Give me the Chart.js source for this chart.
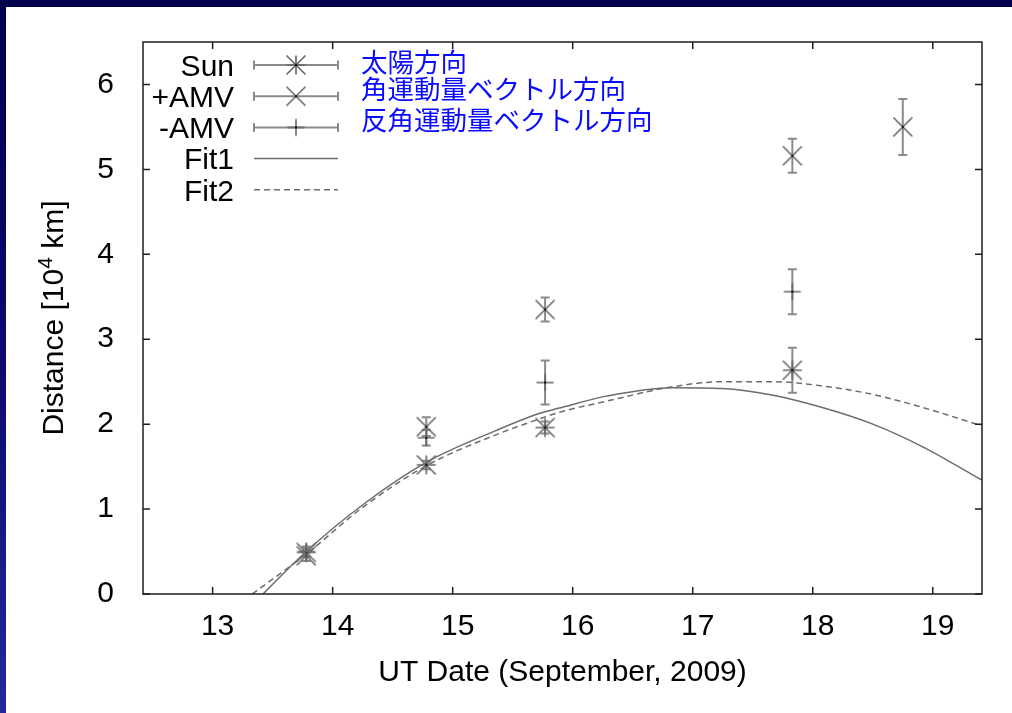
<!DOCTYPE html>
<html>
<head>
<meta charset="utf-8">
<script src="https://cdn.jsdelivr.net/npm/chart.js@4.4.1/dist/chart.umd.min.js"></script>
<style>
  html, body { margin: 0; padding: 0; width: 1012px; height: 713px; overflow: hidden; }
  body { position: relative; background: linear-gradient(180deg, #00004c 0%, #0c0c72 55%, #2626a0 100%); }
  #panel { position: absolute; left: 6px; top: 7px; right: 0; bottom: 0; background: #ffffff; }
  #wrap { position: absolute; left: 0; top: 0; width: 1012px; height: 713px; }
</style>
</head>
<body>
<div id="panel"></div>
<div id="wrap"><canvas id="chart" width="1012" height="713"></canvas></div>
<script>
// Axis ticks
const xTicks = [13, 14, 15, 16, 17, 18, 19];
const yTicks = [0, 1, 2, 3, 4, 5, 6];

// Observations (UT day of September 2009, distance in 10^4 km)
const sunDates = [13.78, 14.78, 15.77, 17.83];
const sunDist  = [0.49, 1.52, 1.96, 2.635];
const sunErr   = [0.05, 0.05, 0.07, 0.265];

const plusAmvDates = [13.78, 14.78, 15.77, 17.83, 18.75];
const plusAmvDist  = [0.45, 1.97, 3.35, 5.16, 5.50];
const plusAmvErr   = [0.06, 0.11, 0.14, 0.20, 0.33];

const minusAmvDates = [13.78, 14.78, 15.77, 17.83];
const minusAmvDist  = [0.50, 1.84, 2.49, 3.56];
const minusAmvErr   = [0.06, 0.09, 0.26, 0.265];

// Fitted trajectories
const fit1Dates = [13.42, 13.78, 14.26, 14.78, 15.37, 15.72, 15.89, 16.28, 16.83, 17.25, 17.67, 18.08, 18.50, 18.92, 19.41];
const fit1Dist  = [0.00, 0.50, 1.06, 1.55, 1.93, 2.125, 2.19, 2.33, 2.43, 2.42, 2.34, 2.195, 2.00, 1.73, 1.34];
const fit2Dates = [13.33, 13.78, 14.26, 14.78, 15.37, 15.72, 15.89, 16.28, 16.83, 17.25, 17.67, 18.08, 18.50, 18.92, 19.41];
const fit2Dist  = [0.00, 0.47, 1.03, 1.51, 1.88, 2.06, 2.14, 2.27, 2.44, 2.50, 2.50, 2.45, 2.35, 2.195, 1.98];

const legendLabels = ['Sun', '+AMV', '-AMV', 'Fit1', 'Fit2'];
const noteLabels = ['太陽方向', '角運動量ベクトル方向', '反角運動量ベクトル方向'];
const xTitle = 'UT Date (September, 2009)';
const yTitleParts = ['Distance [10', '4', ' km]'];

const FONT = '"Liberation Sans", Arial, Helvetica, sans-serif';
const MARK = '#666666';
const BAR = '#8a8a8a';
const CURVE = '#6c6c6c';
const FRAME = '#1e1e1e';

function pts(xs, ys) { return xs.map((x, i) => ({ x: x, y: ys[i] })); }

// gnuplot-like point symbols drawn into small canvases
function makeMarker(kind) {
  const c = document.createElement('canvas');
  c.width = 24; c.height = 24;
  const g = c.getContext('2d');
  g.strokeStyle = MARK; g.lineWidth = 1.6;
  const m = 12, s = 9.5;
  g.beginPath();
  if (kind === 'star' || kind === 'plus') {
    const h = kind === 'plus' ? 8.5 : s;
    g.moveTo(m - h, m); g.lineTo(m + h, m);
    g.moveTo(m, m - h); g.lineTo(m, m + h);
  }
  if (kind === 'star' || kind === 'x') {
    g.moveTo(m - s, m - s); g.lineTo(m + s, m + s);
    g.moveTo(m - s, m + s); g.lineTo(m + s, m - s);
  }
  g.stroke();
  g.fillStyle = '#111';
  g.fillRect(m - 1, m - 1, 2, 2);
  return c;
}
const markers = { star: makeMarker('star'), x: makeMarker('x'), plus: makeMarker('plus') };

const errorSets = [
  { xs: sunDates, ys: sunDist, es: sunErr },
  { xs: plusAmvDates, ys: plusAmvDist, es: plusAmvErr },
  { xs: minusAmvDates, ys: minusAmvDist, es: minusAmvErr }
];

function drawCapBar(ctx, x0, y0, x1, y1, vertical) {
  const c = 4.5;
  ctx.beginPath();
  ctx.moveTo(x0, y0); ctx.lineTo(x1, y1);
  if (vertical) {
    ctx.moveTo(x0 - c, y0); ctx.lineTo(x0 + c, y0);
    ctx.moveTo(x1 - c, y1); ctx.lineTo(x1 + c, y1);
  } else {
    ctx.moveTo(x0, y0 - c); ctx.lineTo(x0, y0 + c);
    ctx.moveTo(x1, y1 - c); ctx.lineTo(x1, y1 + c);
  }
  ctx.stroke();
}

const errorBars = {
  id: 'errorBars',
  beforeDatasetsDraw(chart) {
    const { ctx, scales: { x, y } } = chart;
    ctx.save();
    ctx.strokeStyle = BAR; ctx.lineWidth = 2;
    errorSets.forEach(s => s.xs.forEach((v, i) => {
      const px = x.getPixelForValue(v);
      drawCapBar(ctx, px, y.getPixelForValue(s.ys[i] + s.es[i]), px, y.getPixelForValue(s.ys[i] - s.es[i]), true);
    }));
    ctx.restore();
  }
};

const frame = {
  id: 'frame',
  afterDraw(chart) {
    const { ctx, chartArea: a, scales: { x, y } } = chart;
    ctx.save();
    ctx.strokeStyle = FRAME; ctx.lineWidth = 1.5;
    ctx.strokeRect(a.left, a.top, a.right - a.left, a.bottom - a.top);
    const t = 7;
    ctx.beginPath();
    xTicks.forEach(v => {
      const px = x.getPixelForValue(v);
      ctx.moveTo(px, a.bottom); ctx.lineTo(px, a.bottom - t);
      ctx.moveTo(px, a.top); ctx.lineTo(px, a.top + t);
    });
    yTicks.forEach(v => {
      const py = y.getPixelForValue(v);
      ctx.moveTo(a.left, py); ctx.lineTo(a.left + t, py);
      ctx.moveTo(a.right, py); ctx.lineTo(a.right - t, py);
    });
    ctx.stroke();
    ctx.restore();
  }
};

const keyBox = {
  id: 'keyBox',
  afterDraw(chart) {
    const { ctx, chartArea: a } = chart;
    ctx.save();
    const textRight = a.left + 91;
    const s0 = a.left + 111, s1 = a.left + 195, sm = (s0 + s1) / 2;
    const syms = [markers.star, markers.x, markers.plus];
    ctx.font = '30px ' + FONT;
    ctx.textAlign = 'right';
    ctx.textBaseline = 'middle';
    legendLabels.forEach((lab, i) => {
      const ry = a.top + 23 + i * 31.2;
      ctx.fillStyle = '#000';
      ctx.fillText(lab, textRight, ry + 2.5);
      if (i < 3) {
        ctx.strokeStyle = BAR; ctx.lineWidth = 2;
        drawCapBar(ctx, s0, ry, s1, ry, false);
        ctx.drawImage(syms[i], sm - 12, ry - 12);
      } else {
        ctx.strokeStyle = CURVE; ctx.lineWidth = 1.5;
        ctx.setLineDash(i === 4 ? [6, 4] : []);
        ctx.beginPath(); ctx.moveTo(s0, ry); ctx.lineTo(s1, ry); ctx.stroke();
        ctx.setLineDash([]);
      }
    });
    // Japanese direction notes
    ctx.font = '26.5px "Noto Sans CJK JP", sans-serif';
    ctx.textAlign = 'left';
    ctx.fillStyle = '#0a0aff';
    const noteY = [62, 89, 119.5];
    noteLabels.forEach((t, i) => ctx.fillText(t, a.left + 218, noteY[i]));
    ctx.restore();
  }
};

const yTitle = {
  id: 'yTitle',
  afterDraw(chart) {
    const { ctx, chartArea: a } = chart;
    ctx.save();
    ctx.fillStyle = '#000';
    ctx.textBaseline = 'alphabetic';
    ctx.font = '30px ' + FONT;
    const w0 = ctx.measureText(yTitleParts[0]).width;
    const w2 = ctx.measureText(yTitleParts[2]).width;
    ctx.font = '21px ' + FONT;
    const w1 = ctx.measureText(yTitleParts[1]).width;
    const total = w0 + w1 + w2;
    const cy = (a.top + a.bottom) / 2;
    ctx.translate(63, cy);
    ctx.rotate(-Math.PI / 2);
    let x0 = -total / 2;
    ctx.font = '30px ' + FONT;
    ctx.fillText(yTitleParts[0], x0, 0);
    ctx.font = '21px ' + FONT;
    ctx.fillText(yTitleParts[1], x0 + w0, -11);
    ctx.font = '30px ' + FONT;
    ctx.fillText(yTitleParts[2], x0 + w0 + w1, 0);
    ctx.restore();
  }
};

new Chart(document.getElementById('chart'), {
  type: 'scatter',
  data: {
    datasets: [
      { label: 'Fit1', data: pts(fit1Dates, fit1Dist), showLine: true, borderColor: CURVE, borderWidth: 1.5,
        pointRadius: 0, cubicInterpolationMode: 'monotone', fill: false },
      { label: 'Fit2', data: pts(fit2Dates, fit2Dist), showLine: true, borderColor: CURVE, borderWidth: 1.5,
        borderDash: [6, 4], pointRadius: 0, cubicInterpolationMode: 'monotone', fill: false },
      { label: 'Sun', data: pts(sunDates, sunDist), pointStyle: markers.star, pointRadius: 10 },
      { label: '+AMV', data: pts(plusAmvDates, plusAmvDist), pointStyle: markers.x, pointRadius: 10 },
      { label: '-AMV', data: pts(minusAmvDates, minusAmvDist), pointStyle: markers.plus, pointRadius: 10 }
    ]
  },
  options: {
    responsive: false,
    animation: false,
    devicePixelRatio: 1,
    layout: { padding: { top: 42, right: 30, left: 0, bottom: 0 } },
    plugins: { legend: { display: false }, tooltip: { enabled: false } },
    scales: {
      x: {
        type: 'linear', min: 12.42, max: 19.41,
        grid: { display: false }, border: { display: false },
        afterBuildTicks: s => { s.ticks = xTicks.map(v => ({ value: v })); },
        afterFit: s => { s.height = 119; },
        ticks: { color: '#000', font: { family: FONT, size: 30 }, padding: 7, labelOffset: 5, maxRotation: 0,
                 callback: v => String(v) },
        title: { display: true, text: xTitle, color: '#000', font: { family: FONT, size: 30 },
                 padding: { top: 0, bottom: 22 } }
      },
      y: {
        type: 'linear', min: 0, max: 6.5,
        grid: { display: false }, border: { display: false },
        afterBuildTicks: s => { s.ticks = yTicks.map(v => ({ value: v })); },
        afterFit: s => { s.width = 143; },
        ticks: { color: '#000', font: { family: FONT, size: 30 }, padding: 21, callback: v => String(v) }
      }
    }
  },
  plugins: [errorBars, frame, keyBox, yTitle]
});
</script>
</body>
</html>
